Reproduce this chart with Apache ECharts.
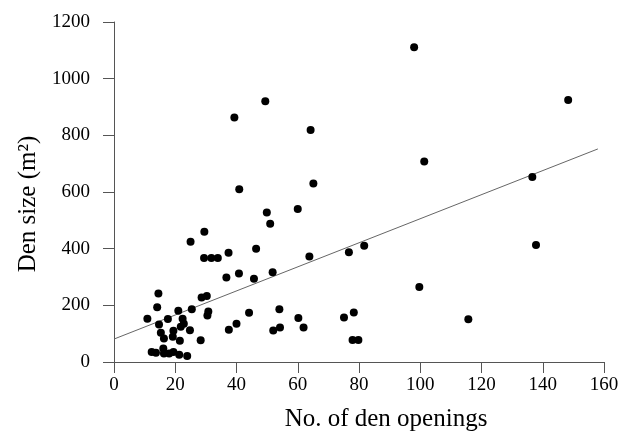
<!DOCTYPE html>
<html>
<head>
<meta charset="utf-8">
<script src="https://cdn.jsdelivr.net/npm/echarts@6/dist/echarts.min.js"></script>
<style>html,body{margin:0;padding:0;background:#fff}#c{width:630px;height:437px}</style>
</head>
<body>
<div id="c"></div>
<script>
var xTicks = [0, 20, 40, 60, 80, 100, 120, 140, 160];
var yTicks = [0, 200, 400, 600, 800, 1000, 1200];
var openings = [98,148.3,49.4,39.3,64.2,101.3,136.6,40.9,65.1,49.9,60,51,
  46.4,63.8,76.7,81.7,137.8,40.8,45.7,51.8,99.7,44.1,54,52,54.2,60.2,61.9,75.1,78.3,77.9,79.8,115.7,40,37.5,
  29.5,25,29.4,31.8,33.9,37.4,36.7,
  14.5,14.1,10.9,14.7,17.6,21,25.4,28.6,30.3,30.5,30.8,22.4,22.8,21.8,24.8,19.4,15.3,16.3,19.2,21.5,28.3,
  12.3,13.7,16.1,16.3,18,19.4,21.3,23.9];
var denSize = [1111,925,920,863,819,708,653,610,630,528,540,488,
  400,372,387,410,413,312,294,317,265,174,186,111,122,155,122,157,175,78,78,151,135,114,
  460,424,367,367,367,386,298,
  242,193,153,132,152,181,186,228,233,164,178,153,135,124,112,110,103,83,89,75,77,
  35,33,48,30,30,35,26,21];
var fitX = [0, 158];
var fitY = [81, 752];

var pts = openings.map(function (v, i) { return [v, denSize[i]]; });
var fit = fitX.map(function (v, i) { return [v, fitY[i]]; });

var chart = echarts.init(document.getElementById('c'));
var axisCol = '#555';
var font = 'Liberation Serif';
chart.setOption({
  animation: false,
  backgroundColor: '#fff',
  grid: { left: 114, right: 26, top: 22, bottom: 72 },
  xAxis: {
    type: 'value', min: 0, max: 160, interval: 20,
    name: 'No. of den openings', nameLocation: 'middle', nameGap: 45,
    nameTextStyle: { fontFamily: font, fontSize: 25, color: '#000', padding: [0, 0, 0, 54] },
    axisLine: { show: true, lineStyle: { color: axisCol, width: 1 } },
    axisTick: { show: true, length: 11, lineStyle: { color: axisCol } },
    axisLabel: { fontFamily: font, fontSize: 19, color: '#000', margin: 14,
      formatter: function (v) { return String(v); } },
    splitLine: { show: false }
  },
  yAxis: {
    type: 'value', min: 0, max: 1200, interval: 200,
    name: 'Den size (m\u00b2)', nameLocation: 'middle', nameGap: 72,
    nameTextStyle: { fontFamily: font, fontSize: 25, color: '#000', padding: [0, 24, 0, 0] },
    axisLine: { show: true, lineStyle: { color: axisCol, width: 1 } },
    axisTick: { show: true, length: 11, lineStyle: { color: axisCol } },
    axisLabel: { fontFamily: font, fontSize: 19, color: '#000', margin: 24,
      formatter: function (v) { return String(v); } },
    splitLine: { show: false }
  },
  series: [
    {
      type: 'line', data: fit, symbol: 'none', silent: true,
      lineStyle: { color: '#666', width: 1 }, z: 1
    },
    {
      type: 'scatter', data: pts, symbol: 'circle', symbolSize: 8,
      itemStyle: { color: '#000', opacity: 1 }, z: 2
    }
  ]
});
</script>
</body>
</html>
